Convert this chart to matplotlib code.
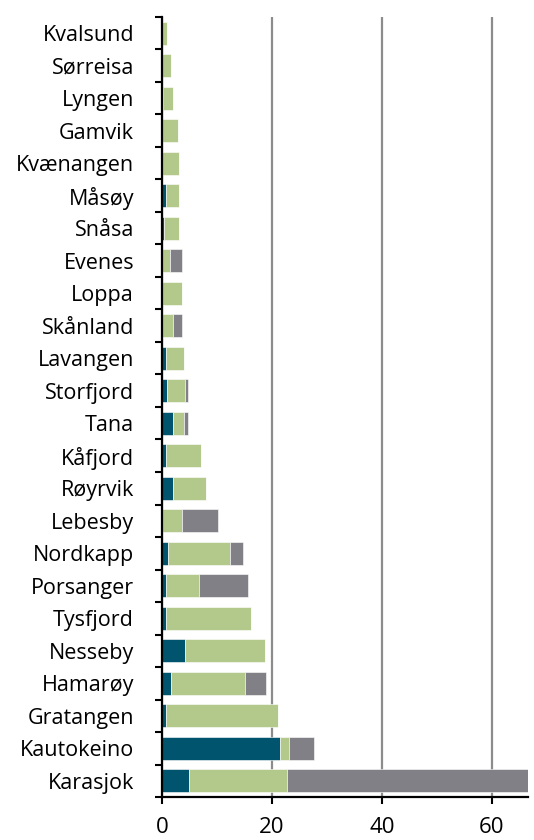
import numpy as np
import matplotlib.pyplot as plt

# categories listed bottom to top
kommuner = ["Karasjok", "Kautokeino", "Gratangen", "Hamarøy", "Nesseby", "Tysfjord",
            "Porsanger", "Nordkapp", "Lebesby", "Røyrvik", "Kåfjord", "Tana",
            "Storfjord", "Lavangen", "Skånland", "Loppa", "Evenes", "Snåsa",
            "Måsøy", "Kvænangen", "Gamvik", "Lyngen", "Sørreisa", "Kvalsund"]
serie1 = [5.0, 21.45, 0.8, 1.6, 4.3, 0.85, 0.7, 1.15, 0.0, 2.0, 0.7, 2.0,
          0.9, 0.85, 0.0, 0.0, 0.0, 0.35, 0.7, 0.0, 0.0, 0.3, 0.1, 0.0]
serie2 = [17.8, 1.75, 20.3, 13.55, 14.55, 15.45, 6.1, 11.25, 3.6, 6.06, 6.45, 2.1,
          3.3, 3.1, 2.0, 3.6, 1.45, 2.8, 2.5, 3.1, 2.9, 1.65, 1.6, 0.9]
serie3 = [43.8, 4.4, 0.0, 3.85, 0.0, 0.0, 8.9, 2.45, 6.7, 0.0, 0.0, 0.75,
          0.5, 0.0, 1.6, 0.0, 2.15, 0.0, 0.0, 0.0, 0.0, 0.0, 0.0, 0.0]

farger = ["#00546e", "#b3c98c", "#808086"]

plt.rcParams['font.family'] = ['Open Sans', 'DejaVu Sans']

fig = plt.figure(figsize=(5.34, 8.4), dpi=100)
ax = fig.add_axes([0.303, 0.051, 0.686, 0.929])

y = np.arange(len(kommuner))
venstre = np.zeros(len(kommuner))
for verdier, farge in zip([serie1, serie2, serie3], farger):
    ax.barh(y, verdier, left=venstre, height=0.71, color=farge,
            edgecolor="white", linewidth=0.4, zorder=3)
    venstre += np.array(verdier)

ax.set_xlim(0, 66.6)
ax.set_ylim(-0.5, len(kommuner) - 0.5)
ax.set_xticks([0, 20, 40, 60])
ax.set_yticks(y)
ax.set_yticklabels(kommuner)
ax.set_yticks(np.arange(len(kommuner) + 1) - 0.5, minor=True)
ax.tick_params(axis="y", which="major", length=0, labelsize=15.5, pad=20)
ax.tick_params(axis="y", which="minor", length=5, width=1.5, direction="out")
ax.tick_params(axis="x", length=5, width=1.5, direction="out", labelsize=16, pad=9)

ax.grid(axis="x", color="#8c8c8c", linewidth=1.6, zorder=0)
for s in ["top", "right"]:
    ax.spines[s].set_visible(False)
for s in ["left", "bottom"]:
    ax.spines[s].set_linewidth(1.6)
    ax.spines[s].set_color("black")
    ax.spines[s].set_zorder(4)

fig.savefig("out.png", dpi=100)
